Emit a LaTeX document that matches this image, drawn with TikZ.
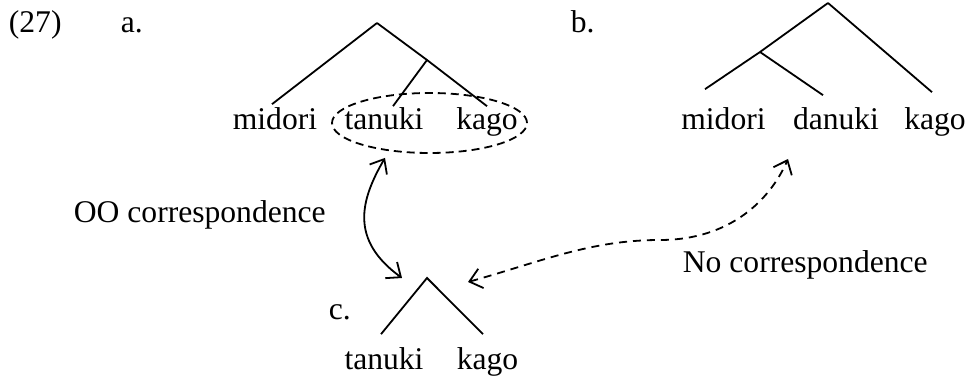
\documentclass[tikz,border=0pt]{standalone}
\usepackage{fontspec}
\setmainfont{Liberation Serif}
\usetikzlibrary{arrows.meta,positioning,shapes.geometric,calc}

\begin{document}
\begin{tikzpicture}[x=0.5pt,y=-0.5pt,>={Straight Barb[length=6pt,width=10pt]},font=\fontsize{15.8}{19}\selectfont,line width=0.9pt]
\tikzstyle{w}=[inner sep=0pt,anchor=base]
\tikzstyle{lbl}=[inner sep=0pt,anchor=base west]
\useasboundingbox (0,0) rectangle (968,378);
% example labels
\node[lbl] (ex) at (8,33) {(27)};
\node[lbl] (la) at (120,33) {a.};
\node[lbl] (lb) at (570,33) {b.};
\node[lbl] (lc) at (328,320) {c.};
% tree a
\node[w] (a1) at (275,130) {midori};
\node[w] (a2) at (384,130) {tanuki};
\node[w] (a3) at (487,130) {kago};
\coordinate (atop) at (377,23);
\coordinate (amid) at (427,60);
\draw (atop)--([shift={(-3,-3)}]a1.north);
\draw (atop)--(amid)--([shift={(0,-1)}]a3.north);
\draw (amid)--([shift={(9,-1)}]a2.north);
\node[draw,dashed,dash pattern=on 4pt off 2.5pt,ellipse,inner sep=0pt,minimum width=97.5pt,minimum height=30pt] (grp) at (429.5,123) {};
% tree b
\node[w] (b1) at (723.5,130) {midori};
\node[w] (b2) at (836,130) {danuki};
\node[w] (b3) at (935,130) {kago};
\coordinate (btop) at (828,3);
\coordinate (bmid) at (760,52);
\draw (btop)--(bmid)--([shift={(-18.5,-18)}]b1.north);
\draw (bmid)--([shift={(-13,-12)}]b2.north);
\draw (btop)--([shift={(-3,-15)}]b3.north);
% tree c
\node[w] (c1) at (384,370) {tanuki};
\node[w] (c2) at (487.5,370) {kago};
\coordinate (ctop) at (427,278);
\draw ([shift={(-3,-13)}]c1.north)--(ctop)--([shift={(-4.5,-13)}]c2.north);
% correspondences
\coordinate (oo1) at ([shift={(-44.5,4)}]grp.south);
\coordinate (oo2) at ([shift={(-25,0)}]ctop);
\draw[<->] (oo1) .. controls +(-25,43) and +(-52,-38) .. (oo2);
\node[lbl] (oo) at (73,223) {OO correspondence};
\coordinate (nc1) at ([shift={(41,4)}]ctop);
\coordinate (nc2) at ([shift={(-48,29)}]b2.base);
\draw[<->,dash pattern=on 4pt off 3pt] (nc1) .. controls (540,262) and (590,240) .. (660,240) .. controls (730,240) and (770,200) .. (nc2);
\node[lbl] (nc) at (682,273) {No correspondence};
\end{tikzpicture}
\end{document}
